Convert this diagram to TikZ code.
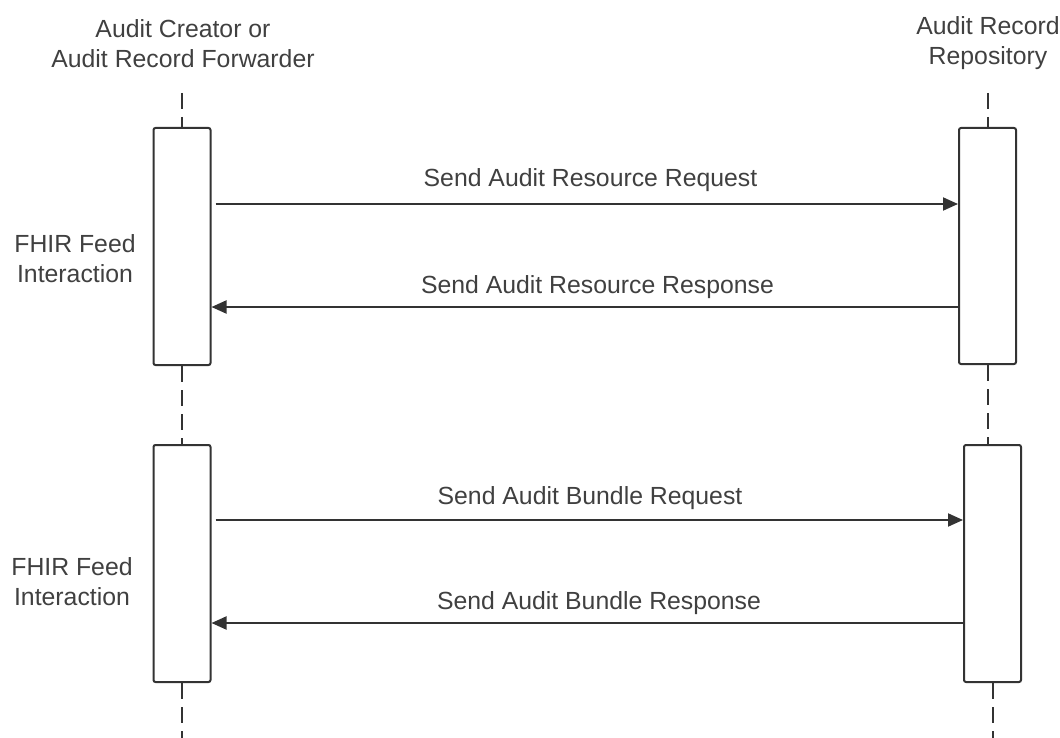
\documentclass[tikz,border=0pt]{standalone}
\usepackage{fontspec}
\setmainfont{Liberation Sans}
\usetikzlibrary{arrows.meta}
\definecolor{ln}{HTML}{333333}
\definecolor{tx}{HTML}{404040}
\begin{document}
\begin{tikzpicture}[x=1pt,y=-1pt,
  actbox/.style={draw=ln, line width=2pt, fill=white, rounded corners=2pt, minimum width=57pt, inner sep=0pt},
  life/.style={draw=ln, line width=2pt, dash pattern=on 16pt off 8pt},
  msg/.style={draw=ln, line width=2pt, -{Triangle[length=15pt,width=13pt]}},
  lbl/.style={text=tx, font=\fontsize{24.8}{30}\selectfont, inner sep=0pt, anchor=base, align=center}]
\useasboundingbox (0,0) rectangle (1060,738);

% headers (anchor = baseline of last line)
\node[lbl] (hl) at (183,68) {Audit Creator or\\Audit Record Forwarder};
\node[lbl] (hr) at (988,65) {Audit Record\\Repository};

% side labels
\node[lbl] (f1) at (75,282) {FHIR Feed\\Interaction};
\node[lbl] (f2) at (72,605) {FHIR Feed\\Interaction};

% lifeline end points
\coordinate (lt) at (182,93);
\coordinate (lb) at (182,738);
\coordinate (rt) at (987.5,93);
\coordinate (rb) at (992.5,738);

% activation boxes
\node[actbox, minimum height=237pt] (l1) at (182,246.5) {};
\node[actbox, minimum height=237pt] (l2) at (182,563.5) {};
\node[actbox, minimum height=236pt] (r1) at (987.5,246) {};
\node[actbox, minimum height=237pt] (r2) at (992.5,563.5) {};

% lifelines
\draw[life] (lt) -- (l1.north);
\draw[life] (l1.south) -- (l2.north);
\draw[life] (l2.south) -- (lb);
\draw[life] (rt) -- (r1.north);
\draw[life] (r1.south) -- (r1.south |- r2.north);
\draw[life] (r2.south) -- (rb);

% messages
\draw[msg] ([xshift=4pt]l1.east |- 0,204) -- (r1.west |- 0,204);
\draw[msg] (r1.west |- 0,307) -- (l1.east |- 0,307);
\draw[msg] ([xshift=4pt]l2.east |- 0,520) -- (r2.west |- 0,520);
\draw[msg] (r2.west |- 0,623) -- (l2.east |- 0,623);

% message labels
\node[lbl] (m1) at (590.5,187) {Send Audit Resource Request};
\node[lbl] (m2) at (597.5,293) {Send Audit Resource Response};
\node[lbl] (m3) at (590,504) {Send Audit Bundle Request};
\node[lbl] (m4) at (599,609) {Send Audit Bundle Response};
\end{tikzpicture}
\end{document}
